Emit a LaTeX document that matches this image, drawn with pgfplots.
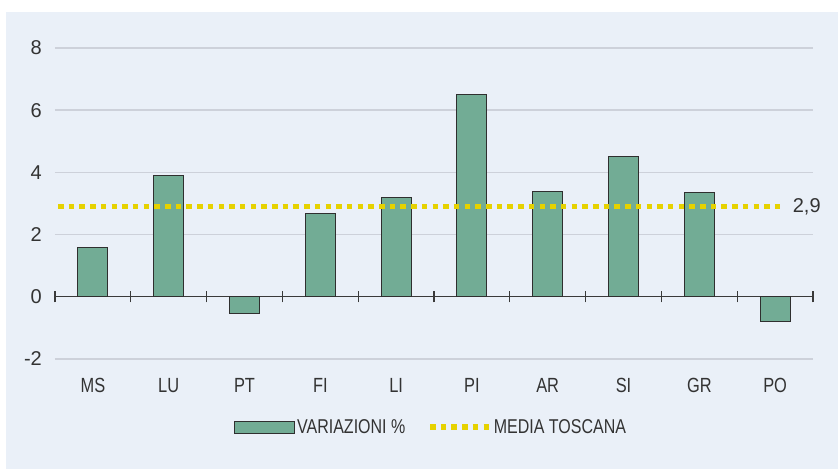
\documentclass[border=0pt]{standalone}
\usepackage{pgfplots}
\pgfplotsset{compat=1.18}
\usepackage{fontspec}
\setmainfont{Liberation Sans}
\newfontfamily\narrowfont{Liberation Sans}[FakeStretch=0.8]
\definecolor{bg}{HTML}{EAF0F8}
\definecolor{gridc}{HTML}{CDD1DA}
\definecolor{axisc}{HTML}{3A3A3A}
\definecolor{barc}{HTML}{72AC95}
\definecolor{bard}{HTML}{2F2F2F}
\definecolor{yellowc}{HTML}{E6D200}
\definecolor{textc}{HTML}{333333}
\begin{document}
\begin{tikzpicture}
\useasboundingbox (0pt,0pt) rectangle (838pt,469pt);
\fill[white] (0pt,0pt) rectangle (838pt,469pt);
\fill[bg] (6pt,0pt) rectangle (838pt,457pt);
\begin{axis}[
  at={(55pt,110pt)}, anchor=south west,
  scale only axis, width=758pt, height=311pt,
  xmin=-0.5, xmax=9.5, ymin=-2, ymax=8,
  clip=false,
  axis line style={draw=none},
  major tick length=0pt,
  /pgf/number format/assume math mode=true,
  ytick={-2,2,4,6,8},
  extra y ticks={0},
  ymajorgrids,
  grid style={color=gridc, line width=1.4pt},
  extra y tick style={grid style={color=axisc, line width=1.3pt}},
  xtick={0,...,9},
  xticklabels={MS,LU,PT,FI,LI,PI,AR,SI,GR,PO},
  xticklabel style={font=\narrowfont\fontsize{20.5}{24}\selectfont, text=textc, inner sep=0pt, anchor=north, yshift=-19pt},
  yticklabel style={font=\fontsize{20}{23}\selectfont, text=textc, inner sep=0pt, anchor=east, xshift=-13pt},
  legend style={at={(0.496,-0.219)}, anchor=center, legend columns=2, draw=none, fill=none,
    font=\narrowfont\fontsize{20}{24}\selectfont, text=textc,
    nodes={inner sep=2pt},
    /tikz/every even column/.append style={column sep=20pt}},
  legend cell align=left,
]
\addplot[ybar, bar width=30pt, fill=barc, draw=bard, line width=1pt,
  legend image code/.code={\draw[fill=barc,draw=bard,line width=1.2pt] (0pt,-6pt) rectangle (60pt,6pt);}]
  coordinates {(0,1.6) (1,3.9) (2,-0.55) (3,2.67) (4,3.18) (5,6.5) (6,3.4) (7,4.5) (8,3.35) (9,-0.79)};
\addlegendentry{VARIAZIONI \%}
\addplot[yellowc, line width=5.5pt, dash pattern=on 5.5pt off 5.2pt,
  legend image code/.code={\draw[yellowc, line width=5.5pt, dash pattern=on 5.5pt off 5.2pt] (0pt,0pt) -- (59pt,0pt);}]
  coordinates {(-0.46,2.9) (9.06,2.9)};
\addlegendentry{MEDIA TOSCANA}
\pgfplotsinvokeforeach{-0.5,0.5,...,9.5}{
  \draw[axisc, line width=1.3pt] (axis cs:#1,0) ++(0pt,-5.5pt) -- ++(0pt,11pt);
}
\node[anchor=west, inner sep=0pt, xshift=13pt, text=textc, font=\fontsize{20}{23}\selectfont] at (axis cs:9.06,2.9) {2,9};
\end{axis}
\end{tikzpicture}
\end{document}
